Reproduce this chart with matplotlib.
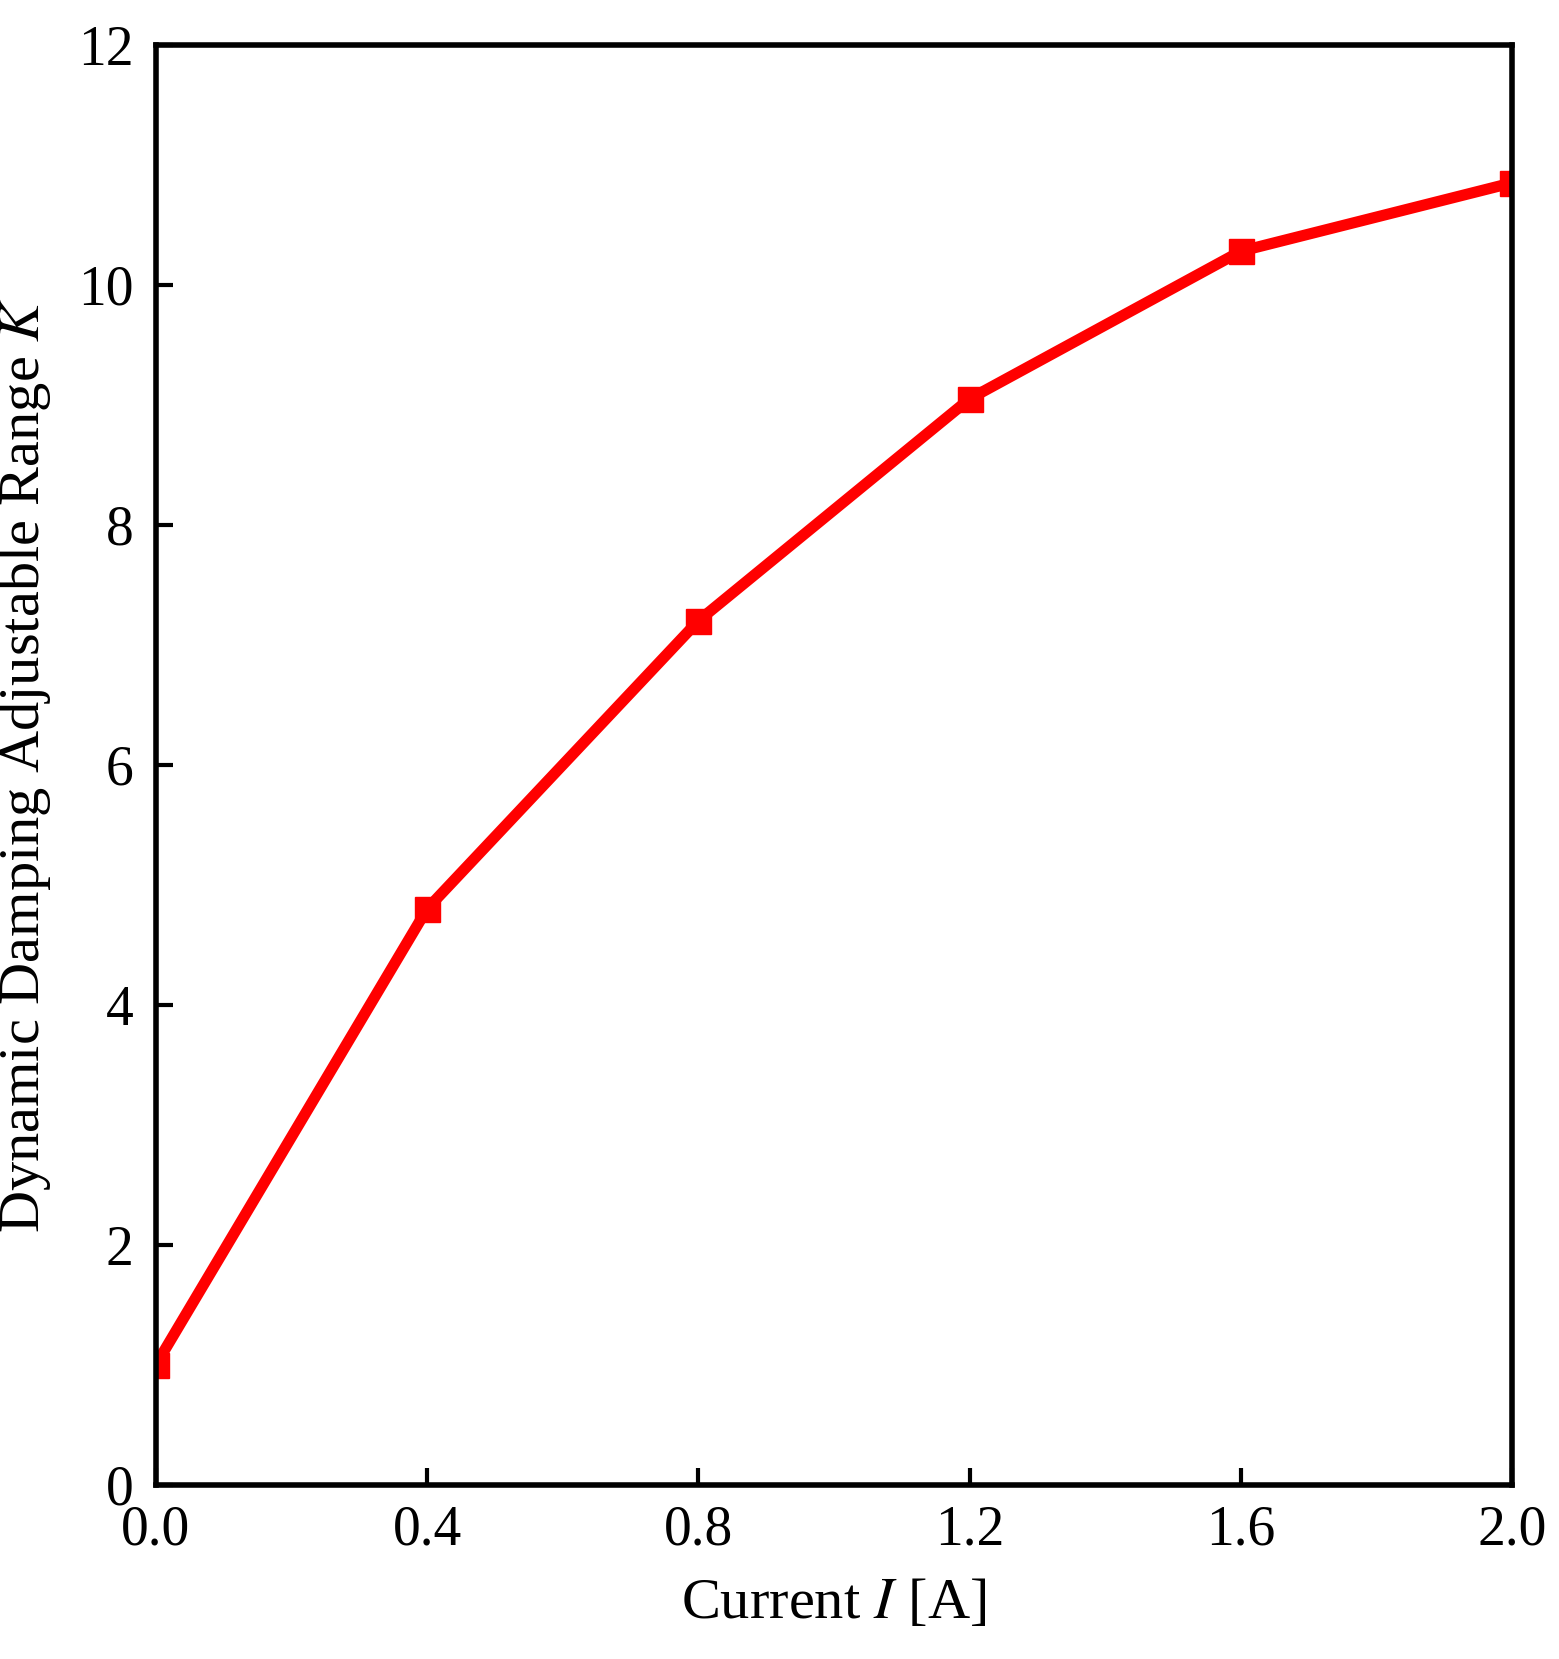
import matplotlib
matplotlib.use('Agg')
import matplotlib.pyplot as plt

current = [0.0, 0.4, 0.8, 1.2, 1.6, 2.0]
k_range = [1.0, 4.8, 7.2, 9.05, 10.28, 10.85]

plt.rcParams['font.family'] = ['Liberation Serif', 'DejaVu Serif']
plt.rcParams['mathtext.fontset'] = 'stix'

fig = plt.figure(figsize=(15.59, 16.59), dpi=100)
ax = fig.add_axes([0.10, 0.105, 0.87, 0.868])
ax.plot(current, k_range, color='red', linewidth=8, marker='s', markersize=18)
ax.set_xlim(0, 2.0)
ax.set_ylim(0, 12)
ax.set_xticks(current)
ax.set_xticklabels(['0.0', '0.4', '0.8', '1.2', '1.6', '2.0'])
ax.set_yticks([0, 2, 4, 6, 8, 10, 12])
ax.tick_params(direction='in', length=12, width=3, labelsize=40)
ax.tick_params(axis='x', pad=14)
ax.tick_params(axis='y', pad=16)
for s in ax.spines.values():
    s.set_linewidth(4)
ax.set_xlabel('Current $I$ [A]', fontsize=42, labelpad=16)
ax.set_ylabel('Dynamic Damping Adjustable Range $K$', fontsize=42, labelpad=18)
fig.savefig('out.png')
